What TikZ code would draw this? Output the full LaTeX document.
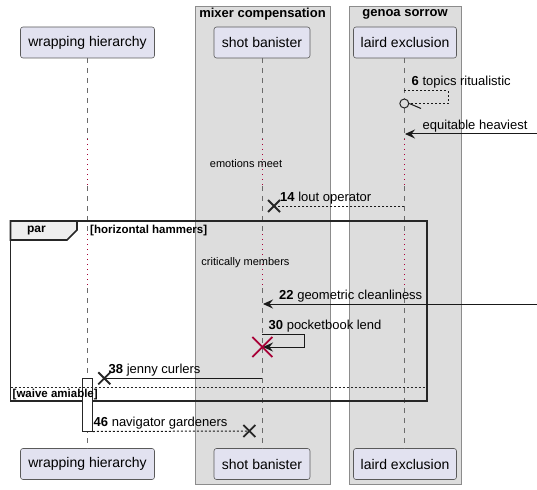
\documentclass[tikz,border=0pt]{standalone}
\usepackage{fontspec}
\setmainfont{Liberation Sans}
\usetikzlibrary{arrows.meta,calc}
\definecolor{partfill}{HTML}{E2E2F0}
\definecolor{partdraw}{HTML}{5A5A5A}
\definecolor{boxfill}{HTML}{DDDDDD}
\definecolor{boxdraw}{HTML}{8C8C8C}
\definecolor{lifecol}{HTML}{6B6B6B}
\definecolor{crimson}{HTML}{A80036}
\definecolor{tabfill}{HTML}{EEEEEE}
\tikzset{
  part/.style={draw=partdraw, fill=partfill, line width=0.6pt, rounded corners=2.5pt,
    minimum height=31pt, inner sep=0pt, font=\fontsize{14}{16}\selectfont},
  grpbox/.style={draw=boxdraw, fill=boxfill, line width=0.8pt},
  grptitle/.style={font=\fontsize{13}{15}\selectfont\bfseries, inner sep=0pt},
  lifeline/.style={draw=lifecol, line width=0.8pt, dash pattern=on 5pt off 5pt},
  delayline/.style={draw=crimson, line width=0.9pt, dash pattern=on 1pt off 4pt},
  msg/.style={draw=black!90, line width=1pt},
  dmsg/.style={msg, dash pattern=on 2pt off 2pt},
  tip/.style={-{Stealth[length=10pt,width=9pt,inset=3.5pt]}},
  msgtext/.style={font=\fontsize{13}{15}\selectfont, inner sep=0pt, anchor=base west},
  delaytext/.style={font=\fontsize{11}{13}\selectfont, inner sep=0pt},
  frametext/.style={font=\fontsize{11.5}{13}\selectfont\bfseries, inner sep=0pt},
  xmark/.style={draw=black!85, line width=1.8pt},
  redx/.style={draw=crimson, line width=1.8pt},
}
\begin{document}
\begin{tikzpicture}[x=1pt,y=-1pt]
\useasboundingbox (0,0) rectangle (537,489);
% group boxes
\draw[grpbox] (195,6) rectangle (330,484);
\node[grptitle] (gmix) at (262.5,14.5) {mixer compensation};
\draw[grpbox] (349,6) rectangle (461.5,484);
\node[grptitle] (ggen) at (405,14.5) {genoa sorrow};
% participants
\node[part, minimum width=134pt] (wt) at (87.5,42.5) {wrapping hierarchy};
\node[part, minimum width=96pt] (st) at (262,42.5) {shot banister};
\node[part, minimum width=103pt] (lt) at (405,42.5) {laird exclusion};
\node[part, minimum width=134pt] (wb) at (87.5,464) {wrapping hierarchy};
\node[part, minimum width=96pt] (sb) at (262,464) {shot banister};
\node[part, minimum width=103pt] (lb) at (405,464) {laird exclusion};
% lifeline x positions
\coordinate (wl) at (87.3,0);
\coordinate (sl) at (262.3,0);
\coordinate (ll) at (404.3,0);
% delay break points
\coordinate (da) at (0,139);
\coordinate (db) at (0,186);
\coordinate (dc) at (0,234);
\coordinate (dd) at (0,288);
\foreach \l in {wl,sl,ll}{
  \draw[lifeline] (\l |- 0,58) -- (\l |- da);
  \draw[delayline] (\l |- da) -- (\l |- db);
  \draw[lifeline] (\l |- db) -- (\l |- dc);
  \draw[delayline] (\l |- dc) -- (\l |- dd);
  \draw[lifeline] (\l |- dd) -- (\l |- 0,449);
}
% message 6 (self, dashed, circle end)
\coordinate (m6a) at (404.3,91);
\coordinate (m6b) at (448,91);
\coordinate (m6c) at (448,104);
\coordinate (m6d) at (409,104);
\draw[dmsg] (m6a) -- (m6b) -- (m6c) -- (m6d);
\node[draw=black!85, line width=1pt, circle, minimum size=9pt, inner sep=0pt, fill=boxfill] (m6o) at (404.3,103.5) {};
\coordinate (m6h) at (421,108.5);
\draw[msg] (m6o.east) -- (m6h);
\node[msgtext] (t6) at (411.5,85.5) {\textbf{6} topics ritualistic};
% equitable heaviest
\coordinate (eqa) at (537,134);
\coordinate (eqb) at (405,134);
\draw[msg, tip] (eqa) -- (eqb);
\node[msgtext] (teq) at (422.5,129.5) {equitable heaviest};
% delay 1
\node[delaytext] (dl1) at (246,164) {emotions meet};
% message 14
\coordinate (m14a) at (404.3,206);
\coordinate (m14x) at (274,206);
\draw[dmsg] (m14a) -- (m14x);
\draw[xmark] ($(m14x)+(-6,-6)$) -- ($(m14x)+(6,6)$) ($(m14x)+(-6,6)$) -- ($(m14x)+(6,-6)$);
\node[msgtext] (t14) at (280,201.5) {\textbf{14} lout operator};
% par frame
\draw[line width=1.6pt, draw=black!85, fill=tabfill] (10.5,221) -- (77,221) -- (77,230) -- (67,240) -- (10.5,240) -- cycle;
\draw[line width=1.6pt, draw=black!85] (10.5,221) rectangle (427,401);
\node[font=\fontsize{12}{14}\selectfont\bfseries, inner sep=0pt] (tpar) at (36.5,231) {par};
\node[frametext, anchor=west] (th) at (90,231) {[horizontal hammers]};
% delay 2
\node[delaytext] (dl2) at (245.5,262.5) {critically members};
% message 22
\coordinate (m22a) at (537,304);
\coordinate (m22b) at (263,304);
\draw[msg, tip] (m22a) -- (m22b);
\node[msgtext] (t22) at (279,299.5) {\textbf{22} geometric cleanliness};
% message 30 self
\coordinate (m30a) at (262.3,334);
\coordinate (m30b) at (304.5,334);
\coordinate (m30c) at (304.5,347);
\coordinate (m30d) at (263,347);
\draw[msg, tip] (m30a) -- (m30b) -- (m30c) -- (m30d);
\node[msgtext] (t30) at (268.5,329.5) {\textbf{30} pocketbook lend};
\coordinate (dx) at (262.3,347);
\draw[redx] ($(dx)+(-10,-10)$) -- ($(dx)+(10,10)$) ($(dx)+(-10,10)$) -- ($(dx)+(10,-10)$);
% activation
\node[draw=black!85, fill=white, line width=1pt, minimum width=10pt, minimum height=52.7pt, inner sep=0pt] (act) at (87.3,404.65) {};
% message 38
\coordinate (m38a) at (262.3,378.3);
\coordinate (m38x) at (104.3,378.3);
\draw[msg] (m38a) -- (m38x);
\draw[xmark] ($(m38x)+(-6,-6)$) -- ($(m38x)+(6,6)$) ($(m38x)+(-6,6)$) -- ($(m38x)+(6,-6)$);
\node[msgtext] (t38) at (108.5,373.5) {\textbf{38} jenny curlers};
% else separator
\draw[draw=black!85, line width=0.9pt, dash pattern=on 2pt off 2pt] (10.5,387.3) -- (427,387.3);
\node[frametext, anchor=west] (tw) at (12.5,395) {[waive amiable]};
% message 46
\coordinate (m46x) at (249.3,431);
\draw[dmsg] (act.south east) -- (m46x);
\draw[xmark] ($(m46x)+(-6,-6)$) -- ($(m46x)+(6,6)$) ($(m46x)+(-6,6)$) -- ($(m46x)+(6,-6)$);
\node[msgtext] (t46) at (93.5,426) {\textbf{46} navigator gardeners};
\end{tikzpicture}
\end{document}
